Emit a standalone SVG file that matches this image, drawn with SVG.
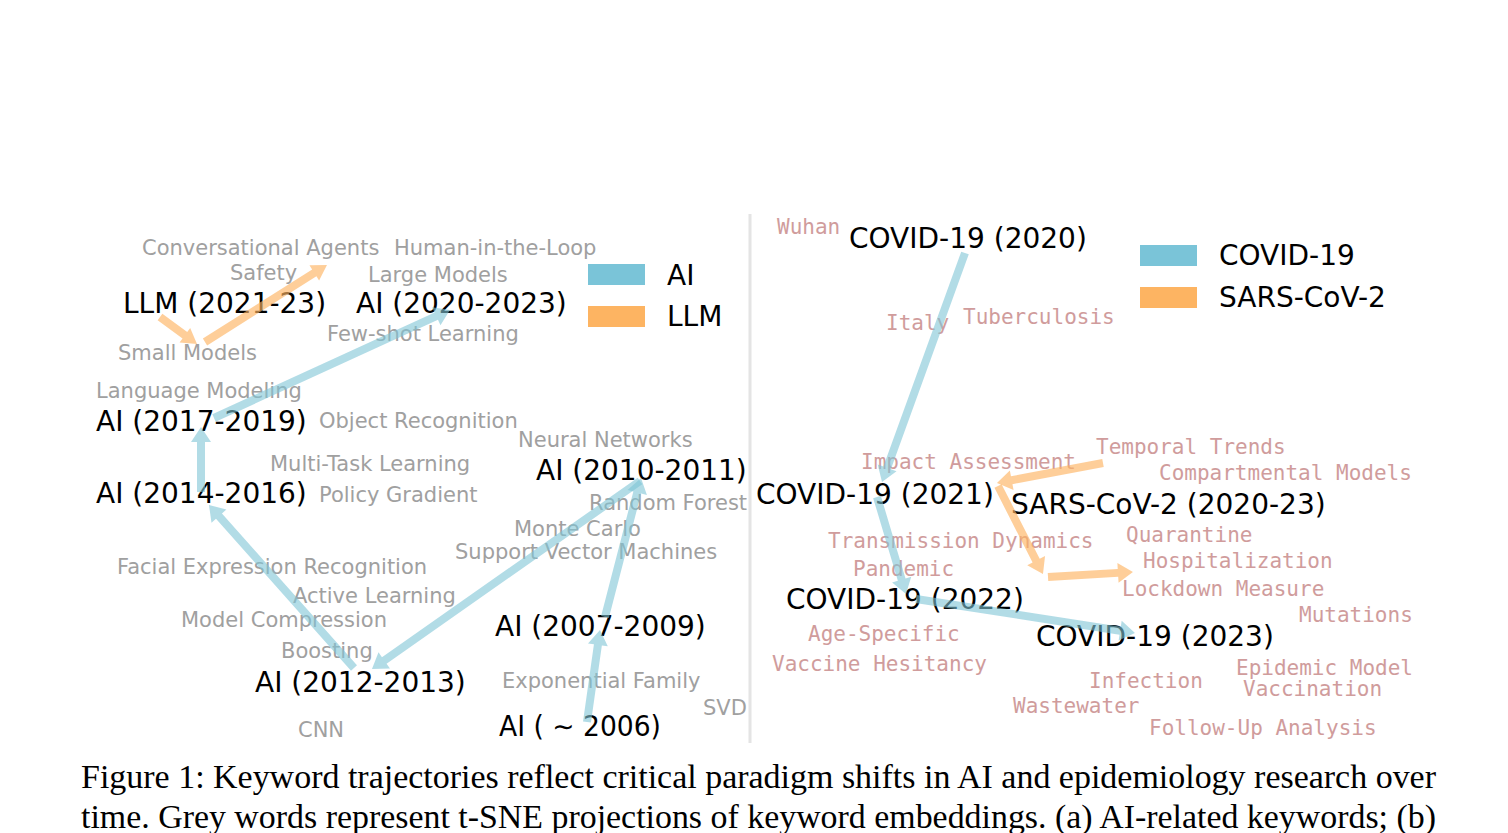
<svg xmlns="http://www.w3.org/2000/svg" width="1508" height="833" viewBox="0 0 1508 833">
<style>
.k{font-family:"DejaVu Sans",sans-serif;font-size:28px;fill:#000}
.g{font-family:"DejaVu Sans",sans-serif;font-size:21px;fill:#a0a0a0}
.p{font-family:"DejaVu Sans Mono",monospace;font-size:21px;fill:#d09c9c}
.c{font-family:"Liberation Serif",serif;font-size:33px;fill:#000}
.ab{fill:#7ec4d6;opacity:.6}
.ao{fill:#fdb462;opacity:.65}
</style>
<rect width="1508" height="833" fill="#fff"/>
<line x1="750" y1="214" x2="750" y2="743" stroke="#e4e4e4" stroke-width="3"/>

<g id="left-keywords">
<text class="g" x="142" y="255">Conversational Agents</text>
<text class="g" x="394" y="255">Human-in-the-Loop</text>
<text class="g" x="230" y="280">Safety</text>
<text class="g" x="368" y="282">Large Models</text>
<text class="g" x="327" y="341">Few-shot Learning</text>
<text class="g" x="118" y="360">Small Models</text>
<text class="g" x="96" y="398">Language Modeling</text>
<text class="g" x="319" y="428">Object Recognition</text>
<text class="g" x="518" y="447">Neural Networks</text>
<text class="g" x="270" y="471">Multi-Task Learning</text>
<text class="g" x="319" y="502">Policy Gradient</text>
<text class="g" x="589" y="510">Random Forest</text>
<text class="g" x="514" y="536">Monte Carlo</text>
<text class="g" x="455" y="559">Support Vector Machines</text>
<text class="g" x="117" y="574">Facial Expression Recognition</text>
<text class="g" x="293" y="603">Active Learning</text>
<text class="g" x="181" y="627">Model Compression</text>
<text class="g" x="281" y="658">Boosting</text>
<text class="g" x="502" y="688">Exponential Family</text>
<text class="g" x="703" y="715">SVD</text>
<text class="g" x="298" y="737">CNN</text>
</g>

<g id="node-llm-2021-23"><text class="k" x="123" y="313">LLM (2021-23)</text></g>
<g id="node-ai-2020-2023"><text class="k" x="356" y="313">AI (2020-2023)</text></g>
<g id="node-ai-2017-2019"><text class="k" x="96" y="431">AI (2017-2019)</text></g>
<g id="node-ai-2010-2011"><text class="k" x="536" y="480">AI (2010-2011)</text></g>
<g id="node-ai-2014-2016"><text class="k" x="96" y="503">AI (2014-2016)</text></g>
<g id="node-ai-2007-2009"><text class="k" x="495" y="636">AI (2007-2009)</text></g>
<g id="node-ai-2012-2013"><text class="k" x="255" y="692">AI (2012-2013)</text></g>
<g id="node-ai-2006"><text class="k" x="499" y="736" textLength="162" lengthAdjust="spacingAndGlyphs">AI ( ∼ 2006)</text></g>

<g id="legend-left">
<rect x="588" y="264" width="57" height="21" fill="#7ac4d8"/>
<rect x="588" y="306" width="57" height="21" fill="#fdb462"/>
<text class="k" x="667" y="285">AI</text>
<text class="k" x="667" y="326">LLM</text>
</g>

<g id="right-keywords">
<text class="p" x="777" y="234">Wuhan</text>
<text class="p" x="886" y="330">Italy</text>
<text class="p" x="963" y="324">Tuberculosis</text>
<text class="p" x="1096" y="454">Temporal Trends</text>
<text class="p" x="861" y="469">Impact Assessment</text>
<text class="p" x="1159" y="480">Compartmental Models</text>
<text class="p" x="1126" y="542">Quarantine</text>
<text class="p" x="828" y="548">Transmission Dynamics</text>
<text class="p" x="1143" y="568">Hospitalization</text>
<text class="p" x="853" y="576">Pandemic</text>
<text class="p" x="1122" y="596">Lockdown Measure</text>
<text class="p" x="1299" y="622">Mutations</text>
<text class="p" x="808" y="641">Age-Specific</text>
<text class="p" x="772" y="671">Vaccine Hesitancy</text>
<text class="p" x="1236" y="675">Epidemic Model</text>
<text class="p" x="1089" y="688">Infection</text>
<text class="p" x="1243" y="696">Vaccination</text>
<text class="p" x="1013" y="713">Wastewater</text>
<text class="p" x="1149" y="735">Follow-Up Analysis</text>
</g>

<g id="node-covid-2020"><text class="k" x="849" y="248">COVID-19 (2020)</text></g>
<g id="node-covid-2021"><text class="k" x="756" y="504">COVID-19 (2021)</text></g>
<g id="node-sars-2020-23"><text class="k" x="1011" y="514">SARS-CoV-2 (2020-23)</text></g>
<g id="node-covid-2022"><text class="k" x="786" y="609">COVID-19 (2022)</text></g>
<g id="node-covid-2023"><text class="k" x="1036" y="646">COVID-19 (2023)</text></g>

<g id="legend-right">
<rect x="1140" y="245" width="57" height="21" fill="#7ac4d8"/>
<rect x="1140" y="287" width="57" height="21" fill="#fdb462"/>
<text class="k" x="1219" y="265">COVID-19</text>
<text class="k" x="1219" y="307">SARS-CoV-2</text>
</g>

<g id="connectors">
<path class="ao" transform="translate(160,317) rotate(36.1)" d="M0,-4 H30.8 V-9 L45.8,0 L30.8,9 V4 H0 Z"/>
<path class="ao" transform="translate(205,342) rotate(-32.3)" d="M0,-4 H129.3 V-9 L144.3,0 L129.3,9 V4 H0 Z"/>
<path class="ab" transform="translate(214,418) rotate(-24.6)" d="M0,-4 H244.5 V-10 L259.5,0 L244.5,10 V4 H0 Z"/>
<path class="ab" transform="translate(201,492) rotate(-90)" d="M0,-4 H50 V-10 L65,0 L50,10 V4 H0 Z"/>
<path class="ab" transform="translate(354,668) rotate(-131.65)" d="M0,-4 H203.2 V-10 L218.2,0 L203.2,10 V4 H0 Z"/>
<path class="ab" transform="translate(640,481) rotate(144.95)" d="M0,-4 H312.4 V-10 L327.4,0 L312.4,10 V4 H0 Z"/>
<path class="ab" transform="translate(587,722) rotate(-81.96)" d="M0,-4 H77.9 V-10 L92.9,0 L77.9,10 V4 H0 Z"/>
<path class="ab" transform="translate(605,617) rotate(-75.48)" d="M0,-4 H128.6 V-10 L143.6,0 L128.6,10 V4 H0 Z"/>
<path class="ab" transform="translate(965,253) rotate(109.92)" d="M0,-4 H228.6 V-10 L243.6,0 L228.6,10 V4 H0 Z"/>
<path class="ab" transform="translate(877,497) rotate(73.36)" d="M0,-4 H86.2 V-10 L101.2,0 L86.2,10 V4 H0 Z"/>
<path class="ab" transform="translate(916,599) rotate(8.82)" d="M0,-4 H206.6 V-10 L221.6,0 L206.6,10 V4 H0 Z"/>
<path class="ao" transform="translate(1103,463) rotate(169.32)" d="M0,-4 H92.9 V-10 L107.9,0 L92.9,10 V4 H0 Z"/>
<path class="ao" transform="translate(998,486) rotate(62.92)" d="M0,-4 H83.8 V-10 L98.8,0 L83.8,10 V4 H0 Z"/>
<path class="ao" transform="translate(1048,577) rotate(-3.37)" d="M0,-4 H70.1 V-10 L85.1,0 L70.1,10 V4 H0 Z"/>
</g>

<g id="caption">
<text class="c" x="81" y="788" textLength="1355" lengthAdjust="spacingAndGlyphs">Figure 1: Keyword trajectories reflect critical paradigm shifts in AI and epidemiology research over</text>
<text class="c" x="81" y="828" textLength="1355" lengthAdjust="spacingAndGlyphs">time. Grey words represent t-SNE projections of keyword embeddings. (a) AI-related keywords; (b)</text>
</g>
</svg>
